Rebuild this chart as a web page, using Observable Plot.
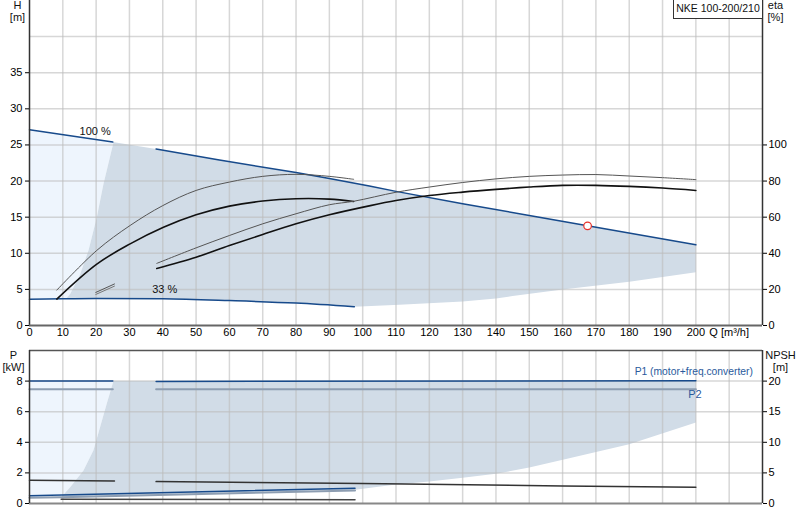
<!DOCTYPE html>
<html>
<head>
<meta charset="utf-8">
<script src="https://cdn.jsdelivr.net/npm/d3@7"></script>
<script src="https://cdn.jsdelivr.net/npm/@observablehq/plot@0.6"></script>
<style>
  body { margin: 0; background: #fff; font-family: "Liberation Sans", Arial, sans-serif; }
  #wrap { position: relative; width: 800px; height: 520px; }
  #wrap svg { display: block; }
  #tag { position: absolute; left: 673px; top: 0; width: 88px; height: 18px; border: 1px solid #333; border-top: none;
         background: #fff; font: 10.5px "Liberation Sans", Arial, sans-serif; line-height: 16px; text-align: center; color: #111; }
</style>
</head>
<body>
<div id="wrap"><div id="topChart"></div><div id="bottomChart"></div><div id="tag"></div></div>
<script>
// ---------- DATA ----------
const pumpTitle = "NKE 100-200/210";
const qTicks = [0,10,20,30,40,50,60,70,80,90,100,110,120,130,140,150,160,170,180,190,200];
const qGridLines = [10,20,30,40,50,60,70,80,90,100,110,120,130,140,150,160,170,180,190,200,210];
const hTicks = [0,5,10,15,20,25,30,35];
const hGridLines = [5,10,15,20,25,30,35,40];
const etaTicks = [0,20,40,60,80,100];
const pTicks = [0,2,4,6,8];
const npshTicks = [0,5,10,15,20];

// H-Q curve at 100 % speed [Q, H]
const head100 = [[0,27.1],[25,25.4],[38,24.45],[57,22.9],[80,21.2],[90,20.35],[102,19.3],[110,18.57],[130,16.86],[150,15.24],[167.5,13.8],[200,11.17]];
// H-Q curve at 33 % speed
const head33 = [[0,3.65],[10,3.7],[20,3.75],[40,3.7],[60,3.45],[80,3.1],[97.5,2.6]];
// left limit (min flow) of operating range, top chart
const edgeTop = [[25.2,25.35],[22.2,19.6],[20.2,15],[17.7,10.4],[15.2,7.1],[12.2,4.35],[11,3.7]];
// lower/right limit of operating range, top chart
const lowerTop = [[97.5,2.6],[111,2.87],[130,3.33],[140,3.75],[145,4.08],[160,5.0],[180,6.07],[200,7.36]];
// pump curves (black)
const headThin = [[8.2,4.9],[20.2,10.4],[30.2,13.85],[40,16.6],[50,18.7],[60,19.86],[70,20.65],[80,20.93],[90,20.65],[97.3,20.24]];
const headThick = [[8.2,3.66],[20.2,8.5],[30.2,11.3],[40.2,13.6],[50,15.33],[60,16.53],[70,17.23],[80,17.55],[90,17.5],[97.3,17.18]];
// efficiency curves, plotted on H axis (eta / 4)
const etaThin = [[38.2,8.6],[50,10.75],[60,12.46],[70,14.08],[80,15.47],[90,16.72],[97.3,17.2],[110,18.45],[120,19.17],[130,19.8],[140,20.3],[150,20.65],[160,20.83],[170,20.9],[180,20.7],[190,20.47],[200,20.2]];
const etaThick = [[38.2,7.9],[50,9.45],[60,11.07],[70,12.6],[80,14.08],[90,15.33],[102.3,16.6],[110,17.3],[120,18.0],[130,18.47],[140,18.85],[150,19.17],[160,19.4],[170,19.4],[180,19.26],[190,19.03],[200,18.7]];
const etaStubA = [[19.9,4.58],[25.5,5.75]];
const etaStubB = [[19.9,4.3],[25.5,5.45]];
const dutyPoint = [[167.5,13.8]];
const speedLabels = [{q:19.7, h:26.9, t:"100 %"},{q:40.6, h:5.05, t:"33 %"}];

// power / NPSH chart [Q, P]
const p1High = [[[0,8.0],[25,8.0]], [[38,7.98],[200,8.03]]];
const p2High = [[[0,7.47],[25,7.47]], [[38,7.47],[200,7.47]]];
const npshHigh = [[[0,1.52],[25.5,1.47]], [[38,1.43],[100,1.31],[160,1.15],[200,1.06]]];
const p1Low = [[0,0.5],[97.7,1.0]];
const p2Low = [[0,0.37],[9.5,0.41],[97.7,0.85]];
const npshLow = [[9.5,0.28],[97.7,0.25]];
const edgeBottom = [[25.2,8],[23.2,6.54],[21.2,5.0],[19.2,3.48],[16.2,2.16],[12.2,1.07],[9.5,0.41]];
const lowerBottom = [[97.7,0.9],[110,1.24],[120,1.44],[130,1.68],[140,1.94],[150,2.35],[162,2.96],[180,3.87],[200,5.29]];
const p1Label = [{q:217.1, p:8.63, t:"P1 (motor+freq.converter)"}];
const p2Label = [{q:199.7, p:7.12, t:"P2"}];

// ---------- COLOURS ----------
const cShade = "#d1dce7", cLight = "#eef5fd", cBlue = "#174a8b", cBlueGrey = "#8d9db1";
const cGrid = "#bdbdbd", cAxis = "#333";
const font = "'Liberation Sans', Arial, sans-serif";

// ---------- POLYGONS built from the arrays ----------
const greyTop = [
  ...head100.filter(d => d[0] >= 25),
  ...lowerTop.slice().reverse(),
  ...head33.filter(d => d[0] > 11 && d[0] <= 97.5).reverse(),
  ...edgeTop.slice().reverse()
];
const lightTop = [
  ...head100.filter(d => d[0] <= 25),
  ...edgeTop,
  ...head33.filter(d => d[0] <= 10).reverse()
];
const greyBottom = [
  [25.2, 8], [200, 8],
  ...lowerBottom.slice().reverse(),
  ...p2Low.filter(d => d[0] >= 9.5 && d[0] < 97.7).reverse(),
  ...edgeBottom.slice().reverse()
];
const lightBottom = [
  [0, 8], ...edgeBottom, ...p2Low.filter(d => d[0] < 9.5).reverse()
];

const X = d => d[0], Y = d => d[1];
const lineSegs = (segs, opts) => segs.map(s => Plot.line(s, {x: X, y: Y, ...opts}));
const frameLabel = (t, anchor, dx, dy) =>
  Plot.text([t], {frameAnchor: anchor, dx, dy, text: d => d, fontSize: 11, textAnchor: "middle", lineAnchor: "middle", fill: "#111"});

// ---------- TOP CHART (H, eta) ----------
const headChart = Plot.plot({
  width: 800, height: 340,
  marginLeft: 29, marginRight: 38, marginTop: 0, marginBottom: 15,
  style: {fontFamily: font, fontSize: "11px", background: "white", overflow: "visible"},
  x: {domain: [0, 220]},
  y: {domain: [0, 45]},
  marks: [
    Plot.line(lightTop, {x: X, y: Y, fill: cLight, stroke: "none"}),
    Plot.line(greyTop, {x: X, y: Y, fill: cShade, stroke: "none"}),
    Plot.gridX(qGridLines, {stroke: cGrid, strokeOpacity: 0.6, strokeWidth: 1.5}),
    Plot.gridY(hGridLines, {stroke: cGrid, strokeOpacity: 0.6, strokeWidth: 1.5}),
    Plot.line(head100.filter(d => d[0] <= 25), {x: X, y: Y, stroke: cBlue, strokeWidth: 1.5}),
    Plot.line(head100.filter(d => d[0] >= 38), {x: X, y: Y, stroke: cBlue, strokeWidth: 1.5}),
    Plot.line(head33, {x: X, y: Y, stroke: cBlue, strokeWidth: 1.5, curve: "monotone-x"}),
    Plot.line(headThin, {x: X, y: Y, stroke: "#555", strokeWidth: 1, curve: "catmull-rom"}),
    Plot.line(headThick, {x: X, y: Y, stroke: "#111", strokeWidth: 1.6, curve: "catmull-rom"}),
    Plot.line(etaThin, {x: X, y: Y, stroke: "#555", strokeWidth: 1, curve: "catmull-rom"}),
    Plot.line(etaThick, {x: X, y: Y, stroke: "#111", strokeWidth: 1.6, curve: "catmull-rom"}),
    Plot.line(etaStubA, {x: X, y: Y, stroke: "#555", strokeWidth: 1}),
    Plot.line(etaStubB, {x: X, y: Y, stroke: "#777", strokeWidth: 1}),
    Plot.dot(dutyPoint, {x: X, y: Y, r: 3.8, fill: "white", stroke: "#e8322b", strokeWidth: 1.2}),
    Plot.text(speedLabels, {x: "q", y: "h", text: "t", fill: "#111", fontSize: 11}),
    Plot.ruleX([0], {stroke: cAxis, strokeWidth: 1.5}),
    Plot.ruleX([220], {stroke: cAxis, strokeWidth: 1.5}),
    Plot.ruleY([0], {stroke: "#666", strokeWidth: 2}),
    Plot.axisX([...qTicks, 210], {tickSize: 0, tickPadding: 3, label: null,
      tickFormat: d => d === 210 ? "Q [m³/h]" : String(d)}),
    Plot.axisY(hTicks, {anchor: "left", tickSize: 4, tickPadding: 3, label: null}),
    Plot.axisY(etaTicks.map(e => e / 4), {anchor: "right", tickSize: 4, tickPadding: 2, label: null,
      tickFormat: d => String(Math.round(d * 4))}),
    frameLabel("H", "top-left", -12, 5),
    frameLabel("[m]", "top-left", -12, 17),
    frameLabel("eta", "top-right", 13, 5),
    frameLabel("[%]", "top-right", 13, 17)
  ]
});
document.getElementById("topChart").append(headChart);

// ---------- BOTTOM CHART (P, NPSH) ----------
const powerChart = Plot.plot({
  width: 800, height: 180,
  marginLeft: 29, marginRight: 38, marginTop: 10, marginBottom: 17,
  style: {fontFamily: font, fontSize: "11px", background: "white", overflow: "visible"},
  x: {domain: [0, 220], axis: null},
  y: {domain: [0, 10]},
  marks: [
    Plot.line(lightBottom, {x: X, y: Y, fill: cLight, stroke: "none"}),
    Plot.line(greyBottom, {x: X, y: Y, fill: cShade, stroke: "none"}),
    Plot.gridX(qGridLines, {stroke: cGrid, strokeOpacity: 0.6, strokeWidth: 1.5}),
    Plot.gridY([2,4,6,8], {stroke: cGrid, strokeOpacity: 0.6, strokeWidth: 1.5}),
    ...lineSegs(p2High, {stroke: cBlueGrey, strokeWidth: 2}),
    ...lineSegs(p1High, {stroke: cBlue, strokeWidth: 1.5}),
    ...lineSegs(npshHigh, {stroke: "#333", strokeWidth: 1.5}),
    Plot.line(p2Low, {x: X, y: Y, stroke: cBlueGrey, strokeWidth: 2}),
    Plot.line(p1Low, {x: X, y: Y, stroke: cBlue, strokeWidth: 1.5}),
    Plot.line(npshLow, {x: X, y: Y, stroke: "#444", strokeWidth: 1.5}),
    Plot.text(p1Label, {x: "q", y: "p", text: "t", textAnchor: "end", fill: "#2a5a9c", fontSize: 10.3}),
    Plot.text(p2Label, {x: "q", y: "p", text: "t", textAnchor: "middle", fill: "#2a5a9c", fontSize: 11}),
    Plot.ruleY([10], {stroke: "#555", strokeWidth: 1.5}),
    Plot.ruleY([0], {stroke: "#888", strokeWidth: 2}),
    Plot.ruleX([0], {stroke: cAxis, strokeWidth: 1.5}),
    Plot.ruleX([220], {stroke: cAxis, strokeWidth: 1.5}),
    Plot.axisY(pTicks, {anchor: "left", tickSize: 4, tickPadding: 3, label: null}),
    Plot.axisY(npshTicks.map(n => n / 2.5), {anchor: "right", tickSize: 4, tickPadding: 2, label: null,
      tickFormat: d => String(Math.round(d * 2.5))}),
    frameLabel("P", "top-left", -16, 5),
    frameLabel("[kW]", "top-left", -16, 17),
    frameLabel("NPSH", "top-right", 18, 5),
    frameLabel("[m]", "top-right", 18, 17)
  ]
});
document.getElementById("bottomChart").append(powerChart);

document.getElementById("tag").textContent = pumpTitle;
</script>
</body>
</html>
